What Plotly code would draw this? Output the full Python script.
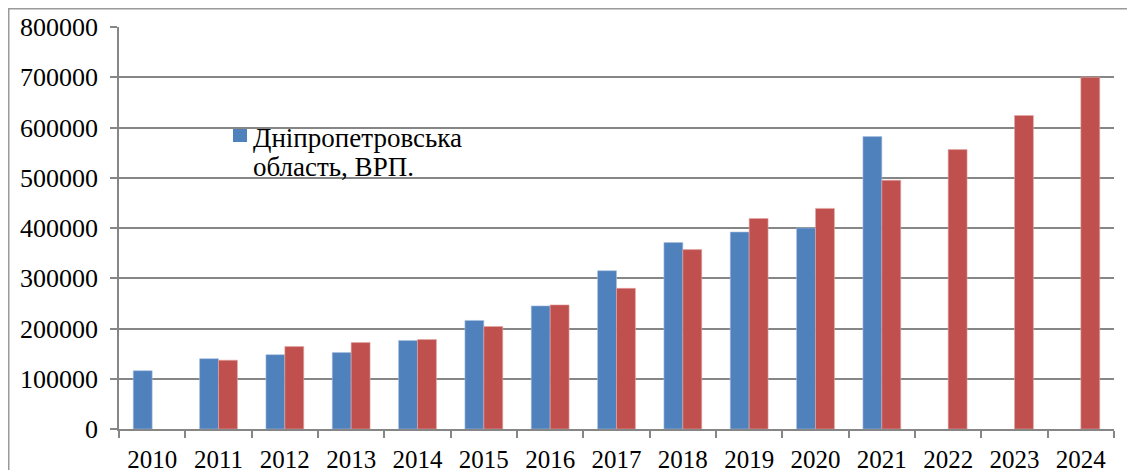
import plotly.graph_objects as go

years = ["2010", "2011", "2012", "2013", "2014", "2015", "2016", "2017",
         "2018", "2019", "2020", "2021", "2022", "2023", "2024"]
grp_actual = [116000, 140000, 148000, 152000, 176000, 216000, 245000, 315000,
              371000, 392000, 400000, 582000, None, None, None]
grp_forecast = [None, 137000, 164000, 172000, 178000, 204000, 247000, 280000,
                357000, 419000, 439000, 495000, 556000, 624000, 700000]
legend_lines = ["Дніпропетровська", "область, ВРП."]

# page is rendered with an 8px body margin, so figure is offset by 8px
OFF = 8
W, H = 1135 - OFF, 470 - OFF
# plot area in page pixels: x 119..1114, y 27..429
PX0, PX1, PY0, PY1 = 119, 1114, 27, 429
L, R = PX0 - OFF, W - (PX1 - OFF)
T, B = PY0 - OFF, H - (PY1 - OFF)
pw, ph = W - L - R, H - T - B


def px_x(x):  # page px -> paper x
    return (x - OFF - L) / pw


def px_y(y):  # page px -> paper y
    return (H - B - (y - OFF)) / ph


font = "Liberation Serif"
BLUE, RED = "#4F81BD", "#C0504D"

fig = go.Figure()
fig.add_trace(go.Bar(x=years, y=grp_actual, name=" ".join(legend_lines), showlegend=False,
                     marker=dict(color=BLUE, line=dict(color="#a9c0de", width=0.6))))
fig.add_trace(go.Bar(x=years, y=grp_forecast, name="прогноз", showlegend=False,
                     marker=dict(color=RED, line=dict(color="#e0a8a6", width=0.6))))

annotations = [
    dict(text=legend_lines[0], xref="paper", yref="paper", x=px_x(251), y=px_y(138),
         xanchor="left", yanchor="middle", showarrow=False,
         font=dict(family=font, size=27, color="black")),
    dict(text=legend_lines[1], xref="paper", yref="paper", x=px_x(251), y=px_y(167),
         xanchor="left", yanchor="middle", showarrow=False,
         font=dict(family=font, size=27, color="black")),
]

shapes = [
    dict(type="rect", xref="paper", yref="paper",
         x0=(0.75 - L) / pw, x1=px_x(1145), y0=px_y(480), y1=(H - B - 0.75) / ph,
         line=dict(color="#9a9a9a", width=1.5), layer="below"),
    dict(type="rect", xref="paper", yref="paper",
         x0=px_x(233), x1=px_x(247), y0=px_y(142), y1=px_y(129),
         line=dict(width=0), fillcolor=BLUE),
]

fig.update_layout(
    template="none",
    width=W, height=H,
    margin=dict(l=L, r=R, t=T, b=B, autoexpand=False),
    paper_bgcolor="white", plot_bgcolor="white",
    barmode="group", bargap=0.43, bargroupgap=0,
    font=dict(family=font, size=25, color="black"),
    showlegend=False,
    xaxis=dict(type="category", showgrid=False, showline=True, linecolor="#868686",
               linewidth=1.5, ticks="outside", tickson="boundaries", ticklen=7,
               tickcolor="#868686", tickwidth=1.5, automargin=False,
               ticklabelstandoff=7,
               tickfont=dict(family=font, size=25, color="black")),
    yaxis=dict(range=[0, 800000], dtick=100000, tickformat="d",
               showgrid=True, gridcolor="#868686", gridwidth=1.5,
               showline=True, linecolor="#868686", linewidth=1.5,
               ticks="outside", ticklen=7, tickcolor="#868686", tickwidth=1.5,
               zeroline=False, automargin=False, ticklabelstandoff=7,
               tickfont=dict(family=font, size=26, color="black")),
    annotations=annotations,
    shapes=shapes,
)

fig.write_html("out.html")
